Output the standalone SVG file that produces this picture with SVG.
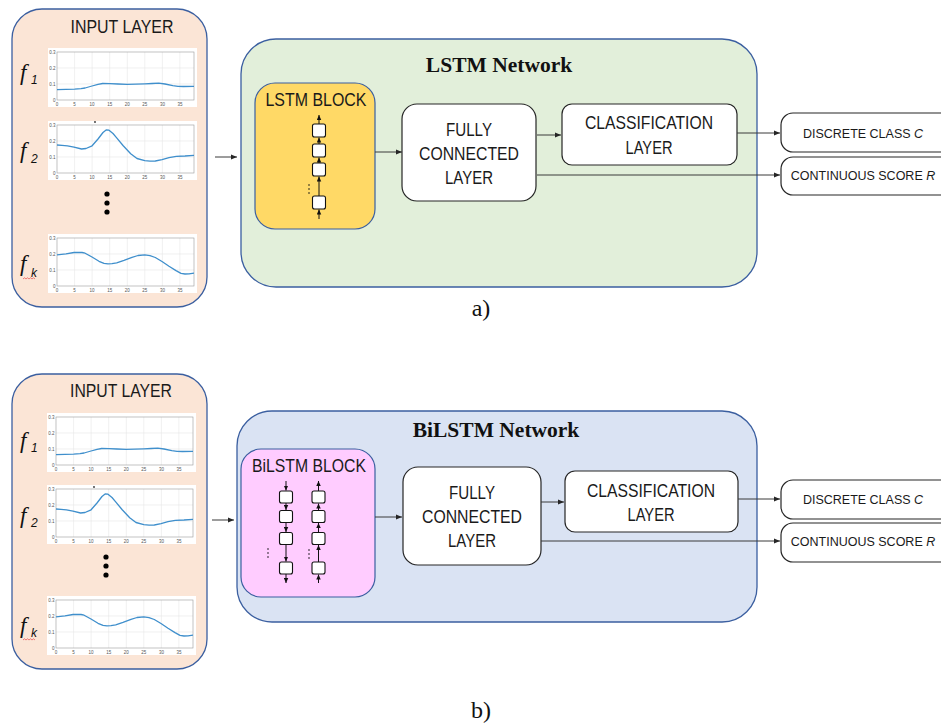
<svg xmlns="http://www.w3.org/2000/svg" xmlns:xlink="http://www.w3.org/1999/xlink" width="941" height="725" viewBox="0 0 941 725">
<style>
.sans{font-family:"Liberation Sans",Arial,sans-serif;fill:#1a1a1a}
.lbl{font-size:17.5px;text-anchor:middle}
.out{font-size:12.5px;text-anchor:middle}
.title{font-family:"Liberation Serif","Times New Roman",serif;font-weight:bold;font-size:21.5px;text-anchor:middle;fill:#111}
.cap{font-family:"Liberation Serif","Times New Roman",serif;font-size:24px;text-anchor:middle;fill:#111}
.fl{font-family:"Liberation Serif","Times New Roman",serif;font-style:italic;font-size:23px;fill:#111}
.fs{font-family:"Liberation Sans",Arial,sans-serif;font-style:italic;font-size:12px;fill:#111}
.tick{font-family:"Liberation Sans",Arial,sans-serif;font-size:4.5px;fill:#555}
.input{fill:#FBE5D6;stroke:#3B5FA0;stroke-width:1.3}
.netA{fill:#E2EFDA;stroke:#3B5FA0;stroke-width:1.3}
.netB{fill:#DAE3F3;stroke:#3B5FA0;stroke-width:1.3}
.blkA{fill:#FFD966;stroke:#3B5FA0;stroke-width:1.2}
.blkB{fill:#FFCCFF;stroke:#3B5FA0;stroke-width:1.2}
.wbox{fill:#fff;stroke:#262626;stroke-width:1.2}
.cell{fill:#fff;stroke:#111;stroke-width:1.1}
.conn{fill:none;stroke:#3a3a3a;stroke-width:1;marker-end:url(#ah)}
.chain{fill:none;stroke:#111;stroke-width:1;marker-end:url(#ahs)}
.grid{stroke:#e6e6e6;stroke-width:0.6}
.curve{fill:none;stroke:#3F8FCC;stroke-width:1.3;stroke-linejoin:round}
</style>
<defs>
<marker id="ah" viewBox="0 0 10 10" refX="10" refY="5" markerWidth="6" markerHeight="6" markerUnits="userSpaceOnUse" orient="auto"><path d="M0,1 L10,5 L0,9 z" fill="#262626"/></marker>
<marker id="ahs" viewBox="0 0 10 10" refX="10" refY="5" markerWidth="5" markerHeight="5" markerUnits="userSpaceOnUse" orient="auto"><path d="M0,0.5 L10,5 L0,9.5 z" fill="#111"/></marker>
<g id="axes">
<rect width="149" height="59" fill="#fff"/>
<path class="grid" d="M26.6,4V52M44.1,4V52M61.7,4V52M79.3,4V52M96.8,4V52M114.4,4V52M131.9,4V52M9,20H146M9,36H146"/>
<rect x="9" y="4" width="137" height="48" fill="none" stroke="#9a9a9a" stroke-width="0.6"/>
<text class="tick" text-anchor="end"><tspan x="7.5" y="5.5">0.3</tspan><tspan x="7.5" y="21.5">0.2</tspan><tspan x="7.5" y="37.5">0.1</tspan><tspan x="7.5" y="53.5">0</tspan></text>
<text class="tick" text-anchor="middle" y="57.8"><tspan x="9">0</tspan><tspan x="26.6">5</tspan><tspan x="44.1">10</tspan><tspan x="61.7">15</tspan><tspan x="79.3">20</tspan><tspan x="96.8">25</tspan><tspan x="114.4">30</tspan><tspan x="131.9">35</tspan></text>
</g>
<path id="c1" class="curve" d="M9,41.6 L18,41.4 L26.6,41.1 L33,40.6 L37.1,40 L44,38 L50,36.3 L54.6,35.5 L62,35.6 L70,36 L79.2,36.4 L88,36.2 L96.8,35.9 L104,35.5 L110.8,35.2 L117,36 L124.8,37.6 L130,38.3 L135.4,38.5 L146,38.4"/>
<path id="c2" class="curve" d="M9,24 L14,24.3 L19.5,24.8 L26,26.2 L33.6,28 L38,27.5 L44.1,24.8 L50,18 L55,11.5 L58.1,9 L61,9.2 L65,12.5 L68.7,16.8 L75,24.5 L82.7,32.8 L89,37.5 L96.8,39.6 L102,40.1 L107.3,40 L114,38.6 L121,36.6 L128.3,35.3 L137,35 L146,34.3"/>
<path id="ck" class="curve" d="M9,20.8 L18,19.8 L26,18.5 L30.1,18.3 L34,18.5 L37.1,19.2 L44,23 L51,27.3 L56,29.4 L60,29.8 L64,29.6 L68.7,28.8 L76,26.3 L84,23.3 L90,21.5 L96.8,20.8 L102,21.6 L107.3,23.5 L114,27.5 L121,32.2 L128,36.6 L133,39.4 L137,40 L141,39.9 L146,39.2"/>
</defs>
<rect width="941" height="725" fill="#fff"/>

<!-- ===== a) ===== -->
<g id="inputA">
<rect class="input" x="12" y="9" width="195" height="298" rx="30"/>
<text class="sans lbl" x="122" y="33" textLength="103" lengthAdjust="spacingAndGlyphs">INPUT LAYER</text>
<use href="#axes" x="48" y="48"/><use href="#c1" x="48" y="48"/>
<use href="#axes" x="48" y="121"/><use href="#c2" x="48" y="121"/>
<circle cx="95" cy="122" r="0.9" fill="#333"/>
<use href="#axes" x="48" y="234"/><use href="#ck" x="48" y="234"/>
<text class="fl" x="20" y="80">f</text><text class="fs" x="31" y="84">1</text>
<text class="fl" x="20" y="158">f</text><text class="fs" x="31" y="163">2</text>
<text class="fl" x="20" y="271">f</text><text class="fs" x="31" y="277">k</text>
<path d="M23,279 l1.5,-1.2 1.5,1.2 1.5,-1.2 1.5,1.2 1.5,-1.2 1.5,1.2 1.5,-1.2 1.5,1.2" fill="none" stroke="#e03030" stroke-width="0.6"/>
<circle cx="107" cy="194" r="2.6" fill="#000"/><circle cx="107" cy="203" r="2.6" fill="#000"/><circle cx="107" cy="212" r="2.6" fill="#000"/>
</g>
<g id="netA">
<rect class="netA" x="241" y="39" width="516" height="248" rx="35"/>
<text class="title" x="499" y="72">LSTM Network</text>
</g>
<g id="blockA">
<rect class="blkA" x="255" y="83" width="120" height="146" rx="20"/>
<text class="sans lbl" x="316" y="106" textLength="101" lengthAdjust="spacingAndGlyphs">LSTM BLOCK</text>
<rect class="cell" x="312.5" y="124" width="13" height="13" rx="2"/>
<rect class="cell" x="312.5" y="144" width="13" height="13" rx="2"/>
<rect class="cell" x="312.5" y="163" width="13" height="13" rx="2"/>
<rect class="cell" x="312.5" y="196" width="13" height="13" rx="2"/>
<path class="chain" d="M319,219V209.5"/><path class="chain" d="M319,196V176.5"/><path class="chain" d="M319,163V157.5"/><path class="chain" d="M319,144V137.5"/><path class="chain" d="M319,124V115"/>
<circle cx="309" cy="185" r="0.8" fill="#111"/><circle cx="309" cy="189" r="0.8" fill="#111"/><circle cx="309" cy="193" r="0.8" fill="#111"/>
</g>
<g id="fcA">
<rect class="wbox" x="402" y="104" width="134" height="97" rx="15"/>
<text class="sans lbl" x="469" y="136" textLength="46" lengthAdjust="spacingAndGlyphs">FULLY</text>
<text class="sans lbl" x="469" y="160" textLength="100" lengthAdjust="spacingAndGlyphs">CONNECTED</text>
<text class="sans lbl" x="469" y="184" textLength="48" lengthAdjust="spacingAndGlyphs">LAYER</text>
</g>
<g id="clsA">
<rect class="wbox" x="562" y="104" width="175" height="61" rx="10"/>
<text class="sans lbl" x="649" y="129" textLength="128" lengthAdjust="spacingAndGlyphs">CLASSIFICATION</text>
<text class="sans lbl" x="649" y="154" textLength="47" lengthAdjust="spacingAndGlyphs">LAYER</text>
</g>
<g id="discA">
<rect class="wbox" x="781" y="113" width="190" height="39" rx="12"/>
<text class="sans out" x="863" y="138">DISCRETE CLASS <tspan font-style="italic">C</tspan></text>
</g>
<g id="contA">
<rect class="wbox" x="781" y="157" width="190" height="38" rx="12"/>
<text class="sans out" x="863" y="180">CONTINUOUS SCORE <tspan font-style="italic">R</tspan></text>
</g>
<text class="cap" x="481" y="316">a)</text>

<!-- ===== b) ===== -->
<g id="inputB">
<rect class="input" x="12" y="374" width="195" height="295" rx="30"/>
<text class="sans lbl" x="121" y="397" textLength="102" lengthAdjust="spacingAndGlyphs">INPUT LAYER</text>
<use href="#axes" x="47" y="413"/><use href="#c1" x="47" y="413"/>
<use href="#axes" x="47" y="485"/><use href="#c2" x="47" y="485"/>
<circle cx="94" cy="487" r="0.9" fill="#333"/>
<use href="#axes" x="47" y="596"/><use href="#ck" x="47" y="596"/>
<text class="fl" x="20" y="448">f</text><text class="fs" x="31" y="452">1</text>
<text class="fl" x="20" y="523">f</text><text class="fs" x="31" y="527">2</text>
<text class="fl" x="20" y="633">f</text><text class="fs" x="31" y="637">k</text>
<path d="M23,640 l1.5,-1.2 1.5,1.2 1.5,-1.2 1.5,1.2 1.5,-1.2 1.5,1.2 1.5,-1.2 1.5,1.2" fill="none" stroke="#e03030" stroke-width="0.6"/>
<circle cx="106" cy="557" r="2.6" fill="#000"/><circle cx="106" cy="566" r="2.6" fill="#000"/><circle cx="106" cy="575" r="2.6" fill="#000"/>
</g>
<g id="netB">
<rect class="netB" x="237" y="411" width="520" height="211" rx="35"/>
<text class="title" x="496" y="437">BiLSTM Network</text>
</g>
<g id="blockB">
<rect class="blkB" x="241" y="449" width="134" height="148" rx="20"/>
<text class="sans lbl" x="309" y="472" textLength="114" lengthAdjust="spacingAndGlyphs">BiLSTM BLOCK</text>
<rect class="cell" x="279.5" y="491" width="13" height="12" rx="2"/>
<rect class="cell" x="279.5" y="510.5" width="13" height="12" rx="2"/>
<rect class="cell" x="279.5" y="532.5" width="13" height="12" rx="2"/>
<rect class="cell" x="279.5" y="562" width="13" height="12" rx="2"/>
<path class="chain" d="M286,481V490.5"/><path class="chain" d="M286,503V510"/><path class="chain" d="M286,522.5V532"/><path class="chain" d="M286,544.5V561.5"/><path class="chain" d="M286,574V583"/>
<rect class="cell" x="312" y="491" width="13" height="12" rx="2"/>
<rect class="cell" x="312" y="510.5" width="13" height="12" rx="2"/>
<rect class="cell" x="312" y="532.5" width="13" height="12" rx="2"/>
<rect class="cell" x="312" y="562" width="13" height="12" rx="2"/>
<path class="chain" d="M318.5,583V574.5"/><path class="chain" d="M318.5,562V545"/><path class="chain" d="M318.5,532.5V523"/><path class="chain" d="M318.5,510.5V503.5"/><path class="chain" d="M318.5,491V481"/>
<circle cx="268" cy="549" r="0.8" fill="#111"/><circle cx="268" cy="553" r="0.8" fill="#111"/><circle cx="268" cy="557" r="0.8" fill="#111"/>
<circle cx="309" cy="550" r="0.8" fill="#111"/><circle cx="309" cy="554" r="0.8" fill="#111"/><circle cx="309" cy="558" r="0.8" fill="#111"/>
</g>
<g id="fcB">
<rect class="wbox" x="403" y="467" width="138" height="98" rx="15"/>
<text class="sans lbl" x="472" y="499" textLength="46" lengthAdjust="spacingAndGlyphs">FULLY</text>
<text class="sans lbl" x="472" y="523" textLength="100" lengthAdjust="spacingAndGlyphs">CONNECTED</text>
<text class="sans lbl" x="472" y="547" textLength="48" lengthAdjust="spacingAndGlyphs">LAYER</text>
</g>
<g id="clsB">
<rect class="wbox" x="565" y="471" width="173" height="61" rx="10"/>
<text class="sans lbl" x="651" y="497" textLength="128" lengthAdjust="spacingAndGlyphs">CLASSIFICATION</text>
<text class="sans lbl" x="651" y="521" textLength="47" lengthAdjust="spacingAndGlyphs">LAYER</text>
</g>
<g id="discB">
<rect class="wbox" x="781" y="480" width="190" height="39" rx="12"/>
<text class="sans out" x="863" y="504">DISCRETE CLASS <tspan font-style="italic">C</tspan></text>
</g>
<g id="contB">
<rect class="wbox" x="781" y="523" width="190" height="39" rx="12"/>
<text class="sans out" x="863" y="546">CONTINUOUS SCORE <tspan font-style="italic">R</tspan></text>
</g>
<text class="cap" x="481" y="718">b)</text>

<g id="connectors">
<path class="conn" d="M215,157H237"/>
<path class="conn" d="M375,152H402"/>
<path class="conn" d="M537,135H561"/>
<path class="conn" d="M737,133H780"/>
<path class="conn" d="M537,175H780"/>
<path class="conn" d="M212,520H234"/>
<path class="conn" d="M375,517H402"/>
<path class="conn" d="M541,502H564"/>
<path class="conn" d="M738,499H780"/>
<path class="conn" d="M541,541H780"/>
</g>
</svg>
